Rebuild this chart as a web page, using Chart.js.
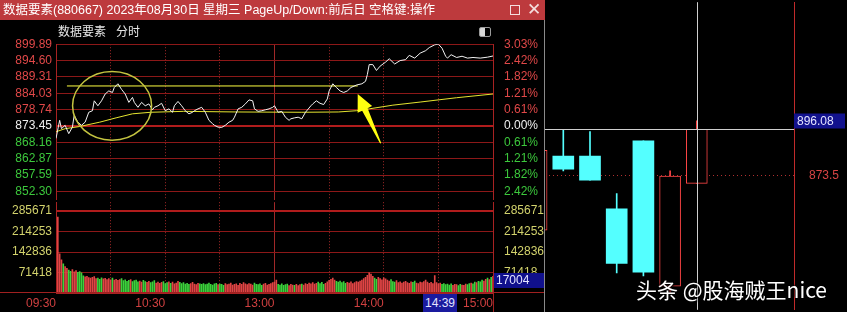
<!DOCTYPE html>
<html>
<head>
<meta charset="utf-8">
<script src="https://cdn.jsdelivr.net/npm/chart.js@4.4.1/dist/chart.umd.min.js"></script>
<style>
  html, body { margin: 0; padding: 0; background: #000; }
  body { position: relative; width: 847px; height: 312px; overflow: hidden;
         font-family: "Liberation Sans", "Noto Sans CJK SC", sans-serif; }
  .abs { position: absolute; }
  canvas { position: absolute; }
  #titlebar { left: 0; top: 0; width: 545px; height: 20px; background: #bd3a3d; }
  #title { left: 3px; top: 2px; font-size: 12.5px; line-height: 16px; color: #fff; white-space: nowrap; }
  #btnMax { left: 510px; top: 5px; width: 8px; height: 8px; border: 1px solid #f4dede; }
  #btnClose { left: 527px; top: 0px; font-size: 17px; line-height: 20px; color: #f4dede; }
  #subtitle { left: 58px; top: 24px; font-size: 12px; line-height: 16px; color: #e6e6e6; white-space: nowrap; }
  #toggle { left: 479px; top: 27px; width: 10px; height: 8px; border: 1px solid #9a9a9a; border-radius: 2px;
            background: linear-gradient(to right, #d8d8d8 45%, #000 45%); }
  #sep { left: 0; top: 292px; width: 545px; height: 1px; background: #a02020; }
  #edge { left: 493px; top: 293px; width: 1px; height: 19px; background: #a02020; }
  #winEdge { left: 544px; top: 20px; width: 1px; height: 292px; background: #8a8a8a; }
  #timeBox { left: 423px; top: 294px; width: 34px; height: 18px; background: #1a1a9e; color: #e4e4ff;
             font-size: 12px; line-height: 18px; text-align: center; }
  #volBox { left: 494px; top: 273px; width: 50px; height: 15px; background: #10108c; color: #e4e4ff;
            font-size: 12px; line-height: 15px; padding-left: 2px; box-sizing: border-box; }
  #mark { left: 636px; top: 278px; font-family: "Noto Sans CJK SC", sans-serif; font-size: 21px; line-height: 22px;
          color: #fff; white-space: nowrap; text-shadow: 1px 1px 2px #000, -1px -1px 2px #000; }
</style>
</head>
<body>
<canvas id="price" width="545" height="178" style="left:0;top:33px"></canvas>
<canvas id="volume" width="545" height="121" style="left:0;top:191px"></canvas>
<canvas id="kline" width="302" height="352" style="left:545px;top:-20px"></canvas>
<div id="titlebar" class="abs"></div>
<div id="title" class="abs">数据要素(880667) 2023年08月30日 星期三 PageUp/Down:前后日 空格键:操作</div>
<div id="btnMax" class="abs"></div>
<div id="btnClose" class="abs">✕</div>
<div id="subtitle" class="abs">数据要素&nbsp;&nbsp;&nbsp;分时</div>
<div id="toggle" class="abs"></div>
<div id="sep" class="abs"></div>
<div id="edge" class="abs"></div>
<div id="winEdge" class="abs"></div>
<div id="timeBox" class="abs"></div>
<div id="volBox" class="abs"></div>
<div id="mark" class="abs">头条 @股海贼王nice</div>
<script>
// ---- intraday data (minutes after 09:30, lunch break removed) ----
const prevClose = 873.45;
const priceMinutes = [0,2,3,5,7,9,10,12,14,16,18,20,21,23,25,27,29,31,32,34,36,38,40,42,43,45,47,49,51,53,54,56,58,60,
  62,64,65,67,69,71,73,75,76,78,80,82,84,86,87,89,91,93,95,97,98,100,102,104,106,108,109,111,113,115,117,119,120,
  122,124,126,128,129,131,133,135,137,140,141,143,145,147,149,150,152,154,156,158,160,162,165,168,170,171,172,174,
  176,178,181,183,186,189,192,194,197,200,203,205,208,210,212,214,215,217,220,223,226,229,233,237,240];
const priceValues = [869.45,875.3,872.6,873.7,871.0,873.1,876.9,874.7,873.7,874.7,877.9,878.4,881.6,880.0,881.6,883.8,
  884.8,884.3,885.9,887.1,885.3,883.8,881.1,882.7,881.1,879.5,881.1,880.0,880.6,878.7,879.5,880.0,880.8,878.4,
  879.0,877.9,880.0,881.4,880.0,878.4,877.4,877.9,878.4,879.0,879.5,877.9,875.3,874.2,873.7,873.1,873.0,873.7,
  874.7,875.3,876.3,879.0,879.5,880.6,881.9,881.6,879.0,878.2,878.4,878.7,879.0,879.5,880.0,
  877.9,878.2,876.3,875.3,875.8,876.1,876.3,875.8,877.9,880.0,880.6,881.6,880.8,880.4,882.2,884.8,887.1,885.9,
  884.8,884.3,884.8,885.9,886.7,887.1,887.9,890.1,893.3,893.3,
  891.4,892.8,894.1,895.2,893.5,894.6,894.9,896.3,895.4,897.0,897.8,898.8,899.7,899.9,898.6,896.0,895.4,896.5,
  895.6,896.0,895.4,895.6,895.4,895.7,896.08];
const avgMinutes = [0,5,13,24,33,42,52,70,100,135,155,165,172,185,200,220,240];
const avgValues = [871.6,872.6,873.3,874.7,876.1,877.4,877.9,878.2,878.0,877.9,878.0,878.4,879.0,880.2,881.2,882.6,883.8];

// one volume bar per minute, 09:31 .. 15:00
const volumes = [
  265000,137000,116000,102000,92000,86000,80000,76000,82000,74000,
  78000,72000,75000,70000,60000,56000,58000,54000,52000,55000,
  57000,50000,52000,48000,53000,49000,51000,47000,50000,46000,
  52000,45000,48000,44000,47000,50000,43000,46000,41000,44000,
  47000,40000,43000,45000,39000,42000,38000,44000,40000,37000,
  41000,36000,39000,43000,35000,38000,34000,37000,40000,33000,
  36000,39000,34000,38000,32000,35000,41000,37000,33000,36000,
  31000,34000,30000,33000,37000,31000,29000,34000,32000,30000,
  33000,29000,31000,35000,30000,28000,32000,34000,29000,31000,
  30000,27000,33000,29000,31000,35000,28000,30000,32000,27000,
  34000,30000,36000,32000,29000,33000,31000,28000,35000,30000,
  29000,32000,27000,31000,34000,28000,30000,33000,36000,38000,
  45000,30000,28000,32000,27000,29000,31000,26000,30000,28000,
  27000,30000,26000,29000,31000,28000,33000,30000,35000,32000,
  36000,31000,34000,38000,33000,37000,30000,34000,39000,44000,
  48000,52000,45000,41000,38000,42000,36000,40000,34000,37000,
  35000,39000,33000,36000,40000,38000,42000,45000,50000,55000,
  62000,70000,66000,58000,52000,48000,55000,50000,46000,53000,
  49000,45000,42000,47000,40000,38000,43000,36000,39000,35000,
  38000,41000,36000,34000,39000,37000,42000,35000,33000,38000,
  36000,40000,45000,38000,34000,37000,33000,61000,36000,32000,
  35000,30000,33000,29000,31000,28000,32000,27000,30000,29000,
  26000,30000,28000,27000,31000,29000,33000,35000,32000,38000,
  36000,41000,39000,45000,42000,48000,52000,47000,55000,58000];
// r = up minute, g = down minute
const volumeSides = ('rrrgrrggrr rggggrrrrr rrgggrrrrr grrrrggggg rggggrrggr rgggrrrrgg grgrrrrggg gggrrrrrgg ' +
  'ggggggggrg ggrrrrrrrr rrrrrrrrgg gggrrrrrrr rggggggrrr grrrgrrrrr rrrggggrrr rrrggggggr rrrrrrrrrr ' +
  'rrrrggrrrr rrrgggrrrr rrrrrggrrr rrrrrrrrrr rggggggrrr ggrrrggrgg rgggrrgrgr').replace(/ /g, '');

// axis ticks
const priceTicks = [852.30, 857.59, 862.87, 868.16, 873.45, 878.74, 884.03, 889.31, 894.60, 899.89];
const pctLabels = ['2.42%','1.82%','1.21%','0.61%','0.00%','0.61%','1.21%','1.82%','2.42%','3.03%'];
const volumeTicks = [71418, 142836, 214253, 285671];
const timeGrid = [0, 30, 60, 90, 120, 150, 180, 210, 240];
const timeLabelMinutes = [0, 60, 120, 180, 240];
const timeLabels = ['09:30', '10:30', '13:00', '14:00', '15:00'];
const cursorTime = '14:39';
const cursorVolume = 17004;

// hand-drawn markup on the intraday chart (minute, price)
const markMinutes = [6, 165.7];
const markPrice = 886.4;
const ringCenter = [30.8, 880.0];
const ringRadius = [21.7, 11.1];
const arrowTip = [165.7, 883.8];
const arrowTail = [178.3, 867.9];

// ---- daily candles ----
const klineIndex = [0, 1, 2, 3, 4, 5, 6];
const klineOpen  = [847.2, 883.2, 883.2, 857.6, 890.5, 820.0, 869.9];
const klineClose = [885.9, 876.8, 871.5, 831.0, 826.8, 873.5, 896.08];
const klineHigh  = [886.5, 896.1, 895.0, 865.0, 890.5, 876.0, 900.3];
const klineLow   = [845.0, 876.0, 871.5, 826.4, 825.0, 817.0, 869.9];
const klineRef = 873.5;
const crossIndex = 6;
const crossPrice = 896.08;

const RED = '#e04848', GREEN = '#3cc83c', GRID = '#8c1818', FRAME = '#a82222';
const axisFont = { family: 'Liberation Sans', size: 12 };
Chart.defaults.font.family = 'Liberation Sans';

document.getElementById('timeBox').textContent = cursorTime;
document.getElementById('volBox').textContent = String(cursorVolume);

const timeDash = ctx => (ctx.type === 'tick' && ctx.tick.value !== 120) ? [1, 2] : [];
const timeGridColor = ctx => (ctx.tick && (ctx.tick.value === 0 || ctx.tick.value === 240)) ? 'rgba(0,0,0,0)' : '#a02828';

const markupPlugin = {
  id: 'markup',
  afterDatasetsDraw(chart) {
    const { ctx, scales: { x, y } } = chart;
    const cx = x.getPixelForValue(ringCenter[0]), cy = y.getPixelForValue(ringCenter[1]);
    const rx = x.getPixelForValue(ringCenter[0] + ringRadius[0]) - cx;
    const ry = cy - y.getPixelForValue(ringCenter[1] + ringRadius[1]);
    ctx.save();
    ctx.strokeStyle = '#c4c440';
    ctx.lineWidth = 1.5;
    ctx.beginPath();
    ctx.ellipse(cx, cy, rx, ry, 0, 0, Math.PI * 2);
    ctx.stroke();

    const tx = x.getPixelForValue(arrowTip[0]), ty = y.getPixelForValue(arrowTip[1]);
    const bx = x.getPixelForValue(arrowTail[0]), by = y.getPixelForValue(arrowTail[1]);
    const len = Math.hypot(bx - tx, by - ty);
    ctx.translate(tx, ty);
    ctx.rotate(Math.atan2(by - ty, bx - tx));
    ctx.fillStyle = '#ffff10';
    ctx.beginPath();
    ctx.moveTo(0, 0);
    ctx.lineTo(17, -8);
    ctx.lineTo(17, -3);
    ctx.lineTo(len, -0.6);
    ctx.lineTo(len, 0.6);
    ctx.lineTo(17, 3);
    ctx.lineTo(17, 8);
    ctx.closePath();
    ctx.fill();
    ctx.restore();
  }
};

new Chart(document.getElementById('price'), {
  type: 'line',
  data: {
    datasets: [
      { data: priceMinutes.map((t, i) => ({ x: t, y: priceValues[i] })), borderColor: '#f2f2f2', borderWidth: 1, pointRadius: 0 },
      { data: avgMinutes.map((t, i) => ({ x: t, y: avgValues[i] })), borderColor: '#e4e430', borderWidth: 1, pointRadius: 0 },
      { data: markMinutes.map(t => ({ x: t, y: markPrice })), borderColor: '#ffff40', borderWidth: 1, pointRadius: 0 }
    ]
  },
  options: {
    responsive: false, animation: false, events: [],
    layout: { padding: { top: 10, bottom: 10, left: 0, right: 0 } },
    plugins: { legend: { display: false }, tooltip: { enabled: false } },
    scales: {
      x: {
        type: 'linear', min: 0, max: 240,
        afterBuildTicks: s => { s.ticks = timeGrid.map(v => ({ value: v })); },
        afterFit: s => { s.height = 0; },
        ticks: { display: false },
        grid: { color: timeGridColor, drawTicks: false },
        border: { display: false, dash: timeDash }
      },
      y: {
        position: 'left', min: 849.63, max: 899.89,
        afterBuildTicks: s => { s.ticks = priceTicks.map(v => ({ value: v })); },
        afterFit: s => { s.width = 56; },
        ticks: {
          font: axisFont, padding: 4, autoSkip: false,
          color: ctx => ctx.index < 4 ? GREEN : ctx.index === 4 ? '#f0f0f0' : RED,
          callback: v => v.toFixed(2)
        },
        grid: {
          drawTicks: false,
          color: ctx => ctx.tick && ctx.tick.value === prevClose ? '#b01c1c' : GRID,
          lineWidth: ctx => ctx.tick && ctx.tick.value === prevClose ? 2 : 1
        },
        border: { color: FRAME }
      },
      y2: {
        position: 'right', min: 849.63, max: 899.89,
        afterBuildTicks: s => { s.ticks = priceTicks.map(v => ({ value: v })); },
        afterFit: s => { s.width = 52; },
        ticks: {
          font: axisFont, padding: 3, autoSkip: false,
          color: ctx => ctx.index < 4 ? GREEN : ctx.index === 4 ? '#f0f0f0' : RED,
          callback: (v, i) => pctLabels[i]
        },
        grid: { display: false },
        border: { color: FRAME }
      }
    }
  },
  plugins: [markupPlugin]
});

new Chart(document.getElementById('volume'), {
  type: 'bar',
  data: {
    datasets: [{
      data: volumes.map((v, i) => ({ x: i + 1, y: v })),
      backgroundColor: volumes.map((v, i) => volumeSides[i] === 'r' ? '#e04444' : '#3cd23c'),
      barThickness: 1
    }]
  },
  options: {
    responsive: false, animation: false, events: [],
    layout: { padding: { top: 10, bottom: 0, left: 0, right: 0 } },
    plugins: { legend: { display: false }, tooltip: { enabled: false } },
    scales: {
      x: {
        type: 'linear', min: 0, max: 240, offset: false,
        afterBuildTicks: s => { s.ticks = timeGrid.map(v => ({ value: v })); },
        afterFit: s => { s.height = 19; },
        ticks: {
          font: axisFont, color: '#d04040', padding: 3, align: 'end', autoSkip: false, maxRotation: 0,
          callback: v => { const k = timeLabelMinutes.indexOf(v); return k < 0 ? '' : timeLabels[k]; }
        },
        grid: { color: timeGridColor, drawTicks: false, offset: false },
        border: { display: true, color: FRAME, dash: timeDash }
      },
      y: {
        position: 'left', min: 0, max: 316760,
        afterBuildTicks: s => { s.ticks = volumeTicks.map(v => ({ value: v })); },
        afterFit: s => { s.width = 56; },
        ticks: { font: axisFont, color: '#d2d26c', padding: 4, autoSkip: false, callback: v => String(v) },
        grid: {
          drawTicks: false,
          color: ctx => ctx.tick && ctx.tick.value === 285671 ? '#b01c1c' : GRID,
          lineWidth: ctx => ctx.tick && ctx.tick.value === 285671 ? 2 : 1
        },
        border: { color: FRAME }
      },
      y2: {
        position: 'right', min: 0, max: 316760,
        afterBuildTicks: s => { s.ticks = volumeTicks.map(v => ({ value: v })); },
        afterFit: s => { s.width = 52; },
        ticks: { font: axisFont, color: '#d2d26c', padding: 3, autoSkip: false, callback: v => String(v) },
        grid: { display: false },
        border: { color: FRAME }
      }
    }
  }
});

const crossPlugin = {
  id: 'cross',
  afterDatasetsDraw(chart) {
    const { ctx, chartArea: a, scales: { x, y } } = chart;
    const px = Math.round(x.getPixelForValue(crossIndex)) + 0.5;
    const py = Math.round(y.getPixelForValue(crossPrice)) + 0.5;
    ctx.save();
    ctx.strokeStyle = '#cfcfcf';
    ctx.lineWidth = 1;
    ctx.beginPath();
    ctx.moveTo(px, a.top); ctx.lineTo(px, a.bottom);
    ctx.moveTo(a.left, py); ctx.lineTo(a.right, py);
    ctx.stroke();
    ctx.fillStyle = '#12128e';
    ctx.fillRect(a.right, py - 16, 51, 15);
    ctx.fillStyle = '#e4e4ff';
    ctx.font = '12px "Liberation Sans"';
    ctx.textBaseline = 'middle';
    ctx.fillText(crossPrice.toFixed(2), a.right + 3, py - 8);
    ctx.restore();
  }
};

const isUp = klineIndex.map(i => klineClose[i] >= klineOpen[i]);
new Chart(document.getElementById('kline'), {
  type: 'bar',
  data: {
    datasets: [
      {
        data: klineIndex.map(i => ({ x: i, y: [klineLow[i], klineHigh[i]] })),
        backgroundColor: isUp.map(u => u ? '#ff4646' : '#54ffff'),
        barThickness: 1, grouped: false, order: 2
      },
      {
        data: klineIndex.map(i => ({ x: i, y: [klineOpen[i], klineClose[i]] })),
        backgroundColor: isUp.map(u => u ? '#000000' : '#54ffff'),
        borderColor: isUp.map(u => u ? '#ff4646' : '#54ffff'),
        borderWidth: isUp.map(u => u ? 1 : 0),
        borderSkipped: false,
        barThickness: 21, grouped: false, order: 1
      }
    ]
  },
  options: {
    responsive: false, animation: false, events: [],
    layout: { padding: { top: 12, bottom: 12, left: 0, right: 0 } },
    plugins: { legend: { display: false }, tooltip: { enabled: false } },
    scales: {
      x: { type: 'linear', min: 0.3146, max: 9.64, offset: false, display: false },
      y: {
        position: 'right', min: 808.55, max: 957.84,
        afterBuildTicks: s => { s.ticks = [{ value: klineRef }]; },
        afterFit: s => { s.width = 53; },
        ticks: { font: axisFont, color: '#d84444', padding: 15, callback: v => v.toFixed(1) },
        grid: { color: '#b03030', drawTicks: false },
        border: { color: '#c02a2a', dash: ctx => ctx.type === 'tick' ? [1, 3] : [] }
      }
    }
  },
  plugins: [crossPlugin]
});
</script>
</body>
</html>
